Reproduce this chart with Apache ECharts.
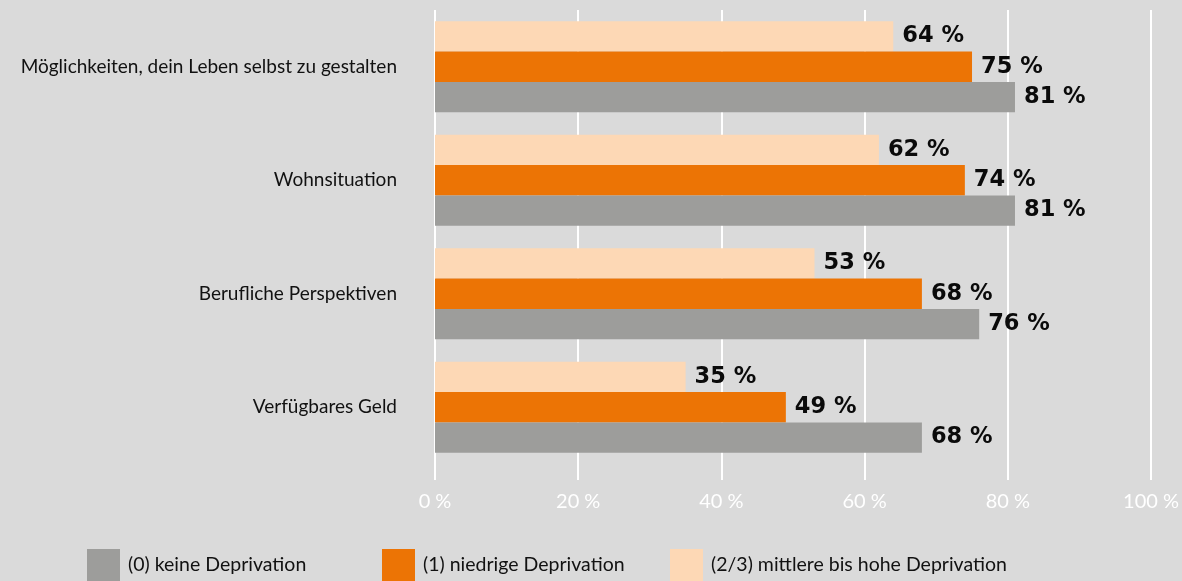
<!DOCTYPE html>
<html>
<head>
<meta charset="utf-8">
<script src="https://cdn.jsdelivr.net/npm/echarts@6/dist/echarts.min.js"></script>
<style>
html,body{margin:0;padding:0;background:#dadada;}
#c{width:1182px;height:581px;}
</style>
</head>
<body>
<div id="c"></div>
<script>
const categories = [
  "Möglichkeiten, dein Leben selbst zu gestalten",
  "Wohnsituation",
  "Berufliche Perspektiven",
  "Verfügbares Geld"
];
const seriesNames = [
  "(0) keine Deprivation",
  "(1) niedrige Deprivation",
  "(2/3) mittlere bis hohe Deprivation"
];
const keineDeprivation = [81, 81, 76, 68];
const niedrigeDeprivation = [75, 74, 68, 49];
const mittlereHoheDeprivation = [64, 62, 53, 35];
const xTicks = [0, 20, 40, 60, 80, 100];

const colors = ["#9d9d9b", "#ec7405", "#fdd8b5"];
const FONT = "Lato";

const chart = echarts.init(document.getElementById('c'));

const labelStyle = {
  show: true,
  position: 'right',
  distance: 9,
  formatter: p => p.value + ' %',
  fontFamily: 'DejaVu Sans',
  fontWeight: 'bold',
  fontSize: 22.5,
  color: '#0a0a0a'
};

function mkSeries(name, data, color) {
  return {
    name: name,
    type: 'bar',
    data: data,
    barWidth: 30.4,
    barGap: '0%',
    itemStyle: { color: color },
    label: labelStyle,
    silent: true
  };
}

function mkLegend(i, left) {
  return {
    data: [seriesNames[i]],
    left: left,
    top: 549,
    padding: 0,
    itemWidth: 33,
    itemHeight: 32,
    itemGap: 8,
    icon: 'rect',
    textStyle: { fontFamily: FONT, fontSize: 19.5, color: '#111', padding: [4, 0, 0, 3] },
    selectedMode: false
  };
}

chart.setOption({
  backgroundColor: '#dadada',
  animation: false,
  grid: { left: 435, right: 29, top: 10, height: 454, containLabel: false },
  legend: [mkLegend(0, 87), mkLegend(1, 382), mkLegend(2, 670)],
  xAxis: {
    type: 'value',
    min: 0, max: 100, interval: 20,
    axisLine: { show: false },
    axisTick: { show: true, length: 16, lineStyle: { color: '#ffffff', width: 2 } },
    splitLine: { show: true, lineStyle: { color: '#ffffff', width: 2 } },
    axisLabel: {
      formatter: v => v + ' %',
      color: '#ffffff',
      fontFamily: FONT,
      fontSize: 20,
      margin: 28
    }
  },
  yAxis: {
    type: 'category',
    data: categories,
    inverse: true,
    axisLine: { show: false },
    axisTick: { show: false },
    axisLabel: {
      color: '#111',
      fontFamily: FONT,
      fontSize: 19,
      margin: 38
    }
  },
  series: [
    mkSeries(seriesNames[2], mittlereHoheDeprivation, colors[2]),
    mkSeries(seriesNames[1], niedrigeDeprivation, colors[1]),
    mkSeries(seriesNames[0], keineDeprivation, colors[0])
  ]
});
</script>
</body>
</html>
